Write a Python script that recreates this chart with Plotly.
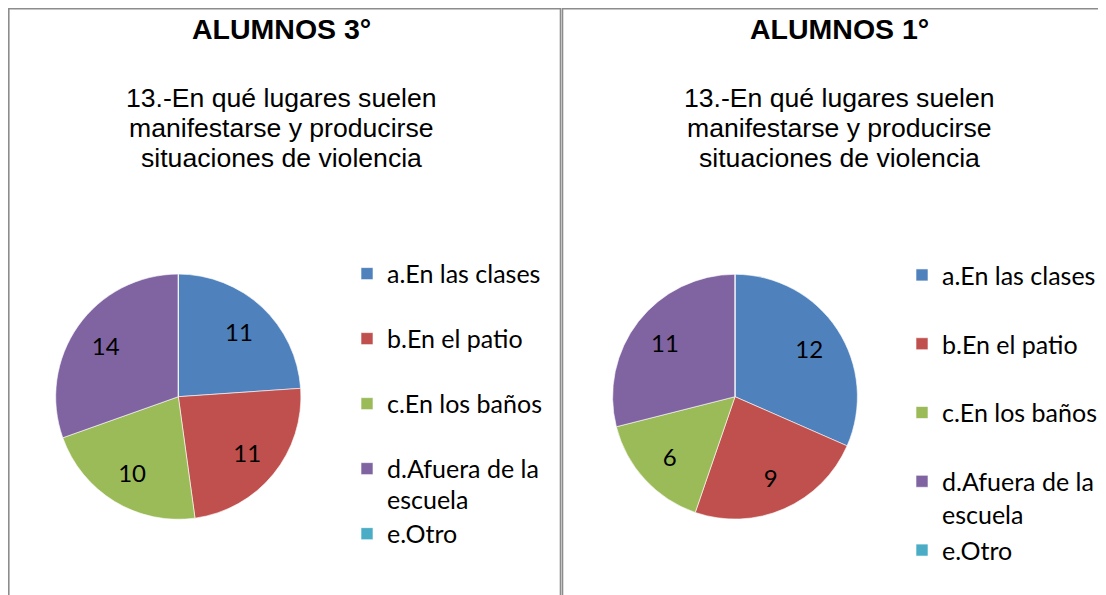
import plotly.graph_objects as go

# ---- data ----
categories = ["a.En las clases", "b.En el patio", "c.En los baños",
              "d.Afuera de la\nescuela", "e.Otro"]
values_3 = [11, 11, 10, 14, 0]
values_1 = [12, 9, 6, 11, 0]
slice_colors = ["#4F81BD", "#C0504D", "#9BBB59", "#8064A2", "#4BACC6"]
panel_titles = ["ALUMNOS 3°", "ALUMNOS 1°"]
subtitle_lines = ["13.-En qué lugares suelen",
                  "manifestarse y producirse",
                  "situaciones de violencia"]

# page is rendered with an 8px body margin -> map page pixels to figure pixels
OFF = 8
W, H = 1106 - OFF, 595 - OFF
LEG_TEXT = 25


def legend_label(cat, style):
    lines = cat.split("\n")
    spans = [f'<span style="{style}">{ln}</span>' for ln in lines]
    if len(spans) < 2:
        spans.append(" ")
    return "<br>".join(spans)


labels_left = [legend_label(c, f"font-size:{LEG_TEXT}px") for c in categories]
labels_right = [legend_label(c, f"font-size:{LEG_TEXT}px;") for c in categories]
plain_labels = [c.replace("\n", " ") for c in categories]


def px_x(v):
    return (v - OFF) / W


def px_y(v):
    return (H - (v - OFF)) / H


def pie_domain(cx, cy, r):
    return dict(x=[px_x(cx - r), px_x(cx + r)], y=[px_y(cy + r), px_y(cy - r)])


def pie(values, labels, dom, legend_name):
    return go.Pie(
        labels=labels,
        values=values,
        textinfo="none",
        marker=dict(colors=slice_colors,
                    line=dict(color="rgba(255,255,255,0.6)", width=1)),
        sort=False,
        direction="clockwise",
        rotation=0,
        hoverinfo="skip",
        domain=dom,
        legend=legend_name,
    )


def pie_text(values, dom, tag):
    # transparent ring carrying the value labels further out, like the original
    return go.Pie(
        labels=[f"{tag}{c}" for c in plain_labels],
        values=values,
        text=[str(v) if v else "" for v in values],
        textinfo="text",
        textposition="inside",
        insidetextorientation="horizontal",
        textfont=dict(family="Lato", size=24, color="black"),
        marker=dict(colors=["rgba(0,0,0,0)"] * len(values),
                    line=dict(width=0)),
        hole=0.45,
        sort=False,
        direction="clockwise",
        rotation=0,
        hovertemplate="%{label}: %{value}<extra></extra>",
        domain=dom,
        showlegend=False,
    )


dom_left = pie_domain(178.3, 396.7, 122.6)
dom_right = pie_domain(735.0, 396.7, 122.4)

fig = go.Figure()
fig.add_trace(pie(values_3, labels_left, dom_left, "legend"))
fig.add_trace(pie(values_1, labels_right, dom_right, "legend2"))
fig.add_trace(pie_text(values_3, dom_left, ""))
fig.add_trace(pie_text(values_1, dom_right, " "))

panel_centers = [281, 839]
annotations = []
for cx, title in zip(panel_centers, panel_titles):
    annotations.append(dict(
        text=f"<b>{title}</b>", x=px_x(cx), y=px_y(29.3), xref="paper", yref="paper",
        xanchor="center", yanchor="middle", showarrow=False,
        font=dict(family="Liberation Sans", size=28.5, color="black")))
    for i, line in enumerate(subtitle_lines):
        annotations.append(dict(
            text=line, x=px_x(cx), y=px_y(97.6 + 30 * i), xref="paper", yref="paper",
            xanchor="center", yanchor="middle", showarrow=False,
            font=dict(family="Liberation Sans", size=26.6, color="black")))

shapes = [
    dict(type="rect", xref="paper", yref="paper",
         x0=px_x(8.8), x1=px_x(560.5), y0=-0.2, y1=px_y(8.8),
         line=dict(color="#8c8c8c", width=1.6), fillcolor="rgba(0,0,0,0)", layer="below"),
    dict(type="rect", xref="paper", yref="paper",
         x0=px_x(562.5), x1=px_x(1125), y0=-0.2, y1=px_y(8.8),
         line=dict(color="#8c8c8c", width=1.6), fillcolor="rgba(0,0,0,0)", layer="below"),
]


def legend_cfg(left_px, top_px, fsize):
    return dict(
        x=px_x(left_px), y=px_y(top_px), xanchor="left", yanchor="top",
        xref="paper", yref="paper",
        font=dict(family="Lato", size=fsize, color="black"),
        valign="top", bgcolor="rgba(0,0,0,0)", borderwidth=0,
        orientation="v",
    )


fig.update_layout(
    width=W, height=H,
    margin=dict(l=0, r=0, t=0, b=0, autoexpand=False),
    paper_bgcolor="white", plot_bgcolor="white",
    showlegend=True,
    legend=legend_cfg(347, 251.6, 23.85),
    legend2=legend_cfg(902, 252.0, 25.3),
    annotations=annotations,
    shapes=shapes,
)

fig.write_html("out.html")
